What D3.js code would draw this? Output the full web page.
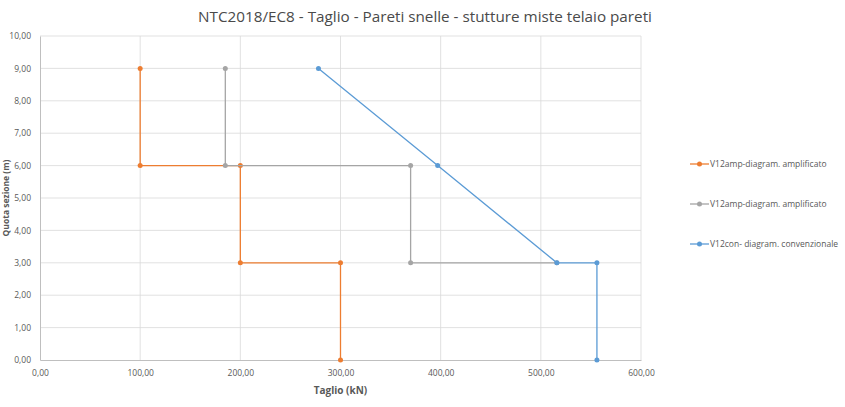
<script src="https://cdnjs.cloudflare.com/ajax/libs/d3/7.8.5/d3.min.js"></script>
<style>
  body { margin: 0; background: #fff; }
  text { font-family: "Open Sans", sans-serif; }
</style>
<body>
<svg id="frame"></svg>
<script>
  // data (Taglio kN, Quota m)
  var seriesNames = ["V12amp-diagram. amplificato", "V12amp-diagram. amplificato", "V12con- diagram. convenzionale"];
  var seriesColors = ["#ED7D31", "#A5A5A5", "#5B9BD5"];
  var ampX = [100, 100, 200, 200, 300, 300];
  var ampY = [9, 6, 6, 3, 3, 0];
  var amp2X = [185, 185, 370, 370, 516];
  var amp2Y = [9, 6, 6, 3, 3];
  var conX = [278, 397, 516, 556, 556];
  var conY = [9, 6, 3, 3, 0];
  var xTicks = [0, 100, 200, 300, 400, 500, 600];
  var yTicks = [0, 1, 2, 3, 4, 5, 6, 7, 8, 9, 10];

  var width = 845, height = 407;
  var margin = {top: 36, right: 205, bottom: 47, left: 40};
  var svg = d3.select('#frame').attr('width', width).attr('height', height);

  var loc = d3.formatLocale({decimal: ",", thousands: ".", grouping: [3], currency: ["", "€"]});
  var fmt = loc.format(".2f");

  var x = d3.scaleLinear().domain([0, 600]).range([margin.left, width - margin.right + 1]);
  var y = d3.scaleLinear().domain([0, 10]).range([height - margin.bottom, margin.top]);

  // grid
  svg.append('g').selectAll('line.v').data(xTicks.slice(1)).enter().append('line')
    .attr('x1', function(d){return x(d)}).attr('x2', function(d){return x(d)})
    .attr('y1', y(0)).attr('y2', y(10))
    .attr('stroke', '#D9D9D9').attr('stroke-width', 0.8);
  svg.append('g').selectAll('line.h').data(yTicks.slice(1)).enter().append('line')
    .attr('x1', x(0)).attr('x2', x(600))
    .attr('y1', function(d){return y(d)}).attr('y2', function(d){return y(d)})
    .attr('stroke', '#D9D9D9').attr('stroke-width', 0.8);

  // axes
  var xAxis = svg.append('g').attr('transform', 'translate(0,' + y(0) + ')')
    .call(d3.axisBottom(x).tickValues(xTicks).tickFormat(fmt).tickSize(0).tickPadding(10));
  var yAxis = svg.append('g').attr('transform', 'translate(' + x(0) + ',0)')
    .call(d3.axisLeft(y).tickValues(yTicks).tickFormat(fmt).tickSize(0).tickPadding(9));
  [xAxis, yAxis].forEach(function(a){
    a.select('.domain').attr('stroke', '#BFBFBF').attr('stroke-width', 1);
    a.selectAll('text').attr('fill', '#595959').style('font-size', '8.5px').style('font-family', '"Open Sans", sans-serif');
  });

  // series
  var series = [
    {xs: ampX, ys: ampY},
    {xs: amp2X, ys: amp2Y},
    {xs: conX, ys: conY}
  ];
  var line = d3.line().x(function(d){return x(d[0])}).y(function(d){return y(d[1])});
  series.forEach(function(s, i){
    var pts = s.xs.map(function(v, j){return [v, s.ys[j]]});
    svg.append('path').attr('d', line(pts)).attr('fill', 'none')
      .attr('stroke', seriesColors[i]).attr('stroke-width', 1.3);
    svg.append('g').selectAll('circle').data(pts).enter().append('circle')
      .attr('cx', function(d){return x(d[0])}).attr('cy', function(d){return y(d[1])})
      .attr('r', 2.5).attr('fill', seriesColors[i]);
  });

  // title
  var title = svg.append('text').attr('x', 425).attr('y', 22).attr('text-anchor', 'middle')
    .attr('fill', '#4a4a4a').style('font-size', '16px')
    .text('NTC2018/EC8 - Taglio - Pareti snelle - stutture miste telaio pareti');
  var tl = title.node().getComputedTextLength();
  title.style('font-size', (16 * 454 / tl) + 'px');

  // axis titles
  svg.append('text').attr('x', x(300)).attr('y', 394).attr('text-anchor', 'middle')
    .attr('fill', '#595959').style('font-size', '10px').style('font-weight', 'bold')
    .text('Taglio (kN)');
  svg.append('text').attr('transform', 'translate(9,' + y(5) + ') rotate(-90)')
    .attr('text-anchor', 'middle')
    .attr('fill', '#595959').style('font-size', '8.5px').style('font-weight', 'bold')
    .text('Quota sezione (m)');

  // legend
  var lg = svg.append('g').selectAll('g').data(seriesNames).enter().append('g')
    .attr('transform', function(d, i){return 'translate(690,' + (164 + i * 40) + ')'});
  lg.append('line').attr('x1', 0).attr('x2', 19).attr('stroke', function(d, i){return seriesColors[i]}).attr('stroke-width', 1.3);
  lg.append('circle').attr('cx', 9.5).attr('r', 2.5).attr('fill', function(d, i){return seriesColors[i]});
  lg.append('text').attr('x', 20).attr('dy', '0.35em').attr('fill', '#595959')
    .style('font-size', '8.5px').text(function(d){return d});
</script>
</body>
